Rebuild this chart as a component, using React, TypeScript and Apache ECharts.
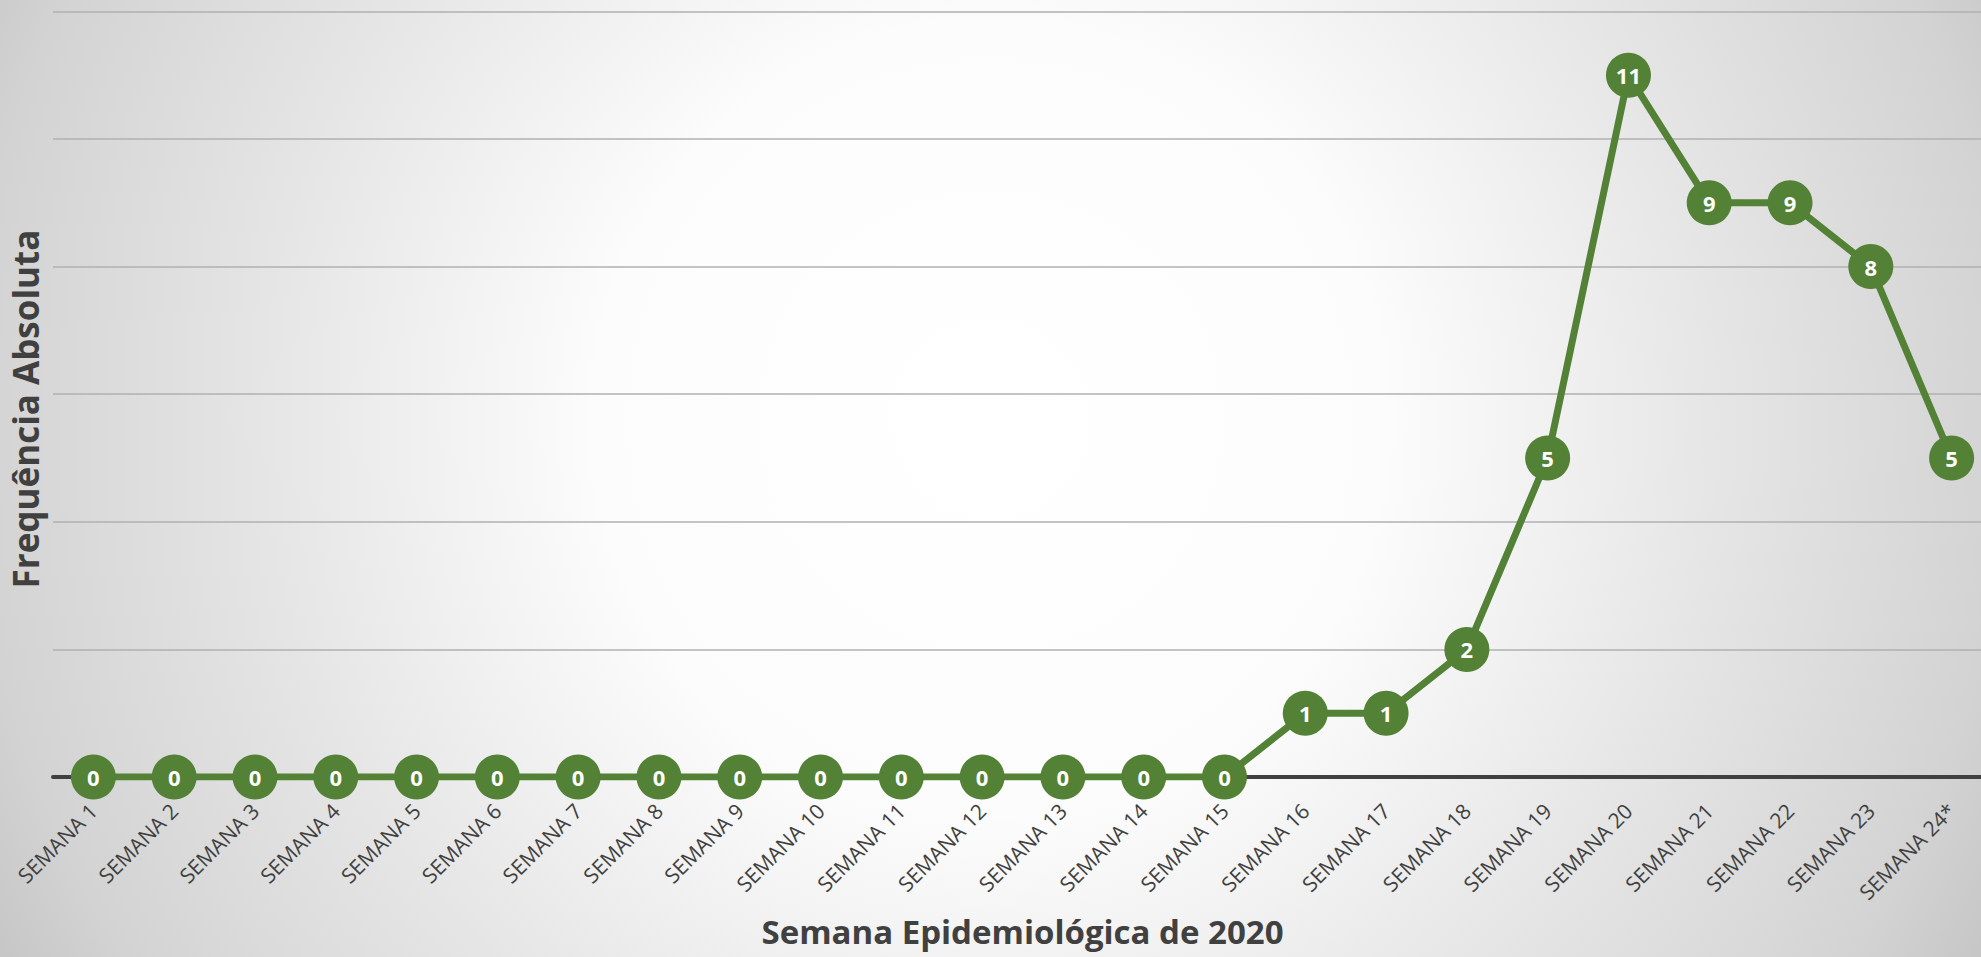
import React, { useEffect, useRef } from "react";
import * as echarts from "echarts";

const categories: string[] = [
  "SEMANA 1", "SEMANA 2", "SEMANA 3", "SEMANA 4", "SEMANA 5", "SEMANA 6",
  "SEMANA 7", "SEMANA 8", "SEMANA 9", "SEMANA 10", "SEMANA 11", "SEMANA 12",
  "SEMANA 13", "SEMANA 14", "SEMANA 15", "SEMANA 16", "SEMANA 17", "SEMANA 18",
  "SEMANA 19", "SEMANA 20", "SEMANA 21", "SEMANA 22", "SEMANA 23", "SEMANA 24*",
];
const values: number[] = [0, 0, 0, 0, 0, 0, 0, 0, 0, 0, 0, 0, 0, 0, 0, 1, 1, 2, 5, 11, 9, 9, 8, 5];

const xTitle = "Semana Epidemiológica de 2020";
const yTitle = "Frequência Absoluta";

const GREEN = "#538135";
const TEXT = "#404040";
const FONT = "'Open Sans', 'Noto Sans', sans-serif";

export default function App() {
  const ref = useRef<HTMLDivElement>(null);
  useEffect(() => {
    if (!ref.current) return;
    const chart = echarts.init(ref.current, null, { renderer: "svg" });
    chart.setOption({
      animation: false,
      backgroundColor: new echarts.graphic.RadialGradient(
        990,
        420,
        1130,
        [
          { offset: 0, color: "#ffffff" },
          { offset: 0.35, color: "#fcfcfc" },
          { offset: 0.65, color: "#e5e5e5" },
          { offset: 0.9, color: "#d3d3d3" },
          { offset: 1, color: "#c6c6c6" },
        ],
        true
      ),
      grid: {
        left: 53,
        right: -11,
        top: 11.4,
        bottom: 180,
        containLabel: false,
        outerBoundsMode: "none",
      },
      graphic: [
        {
          type: "text",
          x: 25,
          y: 409,
          rotation: Math.PI / 2,
          style: {
            text: yTitle,
            fill: TEXT,
            font: `bold 35px ${FONT}`,
            align: "center",
            verticalAlign: "middle",
          },
        },
      ],
      xAxis: {
        type: "category",
        data: categories,
        boundaryGap: true,
        axisLine: { show: true, lineStyle: { color: "#404040", width: 4 } },
        axisTick: { show: false },
        axisLabel: {
          interval: 0,
          rotate: 45,
          margin: 30,
          color: TEXT,
          fontSize: 21,
          fontFamily: FONT,
        },
        name: xTitle,
        nameLocation: "middle",
        nameGap: 138,
        nameTextStyle: { color: TEXT, fontSize: 33, fontWeight: "bold", fontFamily: FONT },
      },
      yAxis: {
        type: "value",
        min: 0,
        max: 12,
        interval: 2,
        axisLabel: { show: false },
        axisLine: { show: false },
        axisTick: { show: false },
        splitLine: { lineStyle: { color: "#b0b0b0", width: 1.5 } },
      },
      series: [
        {
          type: "line",
          data: values,
          symbol: "circle",
          symbolSize: 45,
          lineStyle: { color: GREEN, width: 7 },
          itemStyle: { color: GREEN },
          z: 3,
          label: {
            show: true,
            position: "inside",
            color: "#ffffff",
            fontWeight: "bold",
            fontSize: 22,
            fontFamily: FONT,
          },
        },
      ],
    });
    return () => chart.dispose();
  }, []);
  return <div ref={ref} style={{ width: 1981, height: 957, position: "absolute", left: 0, top: 0 }} />;
}
